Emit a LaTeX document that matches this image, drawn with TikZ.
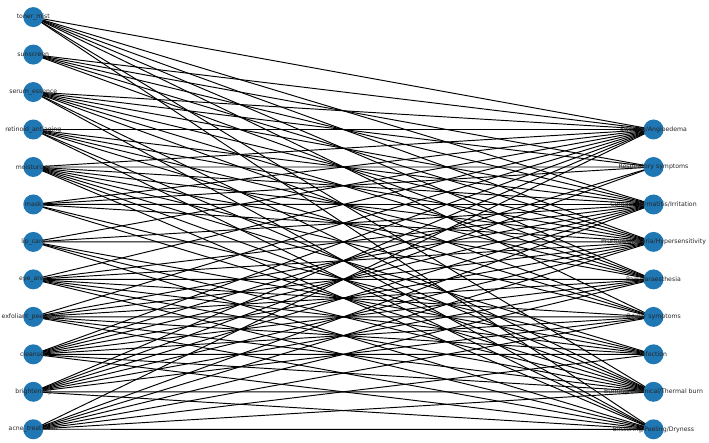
\documentclass[tikz,border=0pt]{standalone}
\usepackage{fontspec}
\setmainfont{DejaVu Sans}
\pgfdeclarelayer{bg}
\pgfsetlayers{bg,main}
\definecolor{mplblue}{HTML}{1F77B4}
\tikzset{
  vtx/.style={circle,fill=mplblue,draw=none,minimum size=20pt,inner sep=0pt},
  lbl/.style={font=\fontsize{6.2}{7}\selectfont,text=black!85,inner sep=0pt},
  edge/.style={draw=black,line width=0.95pt}
}
\begin{document}
\begin{tikzpicture}[x=1pt,y=-1pt]
\useasboundingbox (0,0) rectangle (709,443);
% left nodes
\foreach \n/\t [count=\i from 0] in {
  toner/toner\_mist, sun/sunscreen, serum/serum\_essence, retin/retinoid\_antiaging,
  moist/moisturizer, mask/mask, lip/lip\_care, eye/eye\_area,
  exfol/exfoliant\_peel\_scrub, clean/cleanser, bright/brightening, acne/acne\_treatment}{
  \node[vtx] (\n) at (33.3,{17.1+37.47*\i}) {};
  \node[lbl] (\n-l) at (\n) {\t};
}
% right nodes
\node[vtx] (swell) at (653.5,129.5) {};
\node[vtx] (resp)  at (653.5,167.0) {};
\node[vtx] (derm)  at (653.5,204.5) {};
\node[vtx] (prur)  at (653.5,241.9) {};
\node[vtx] (pain)  at (653.5,279.4) {};
\node[vtx] (ocul)  at (653.5,316.9) {};
\node[vtx] (infec) at (653.5,354.3) {};
\node[vtx] (burn)  at (653.5,391.8) {};
\node[vtx] (blist) at (653.5,429.3) {};
\node[lbl] (swell-l) at (swell) {Swelling/Angioedema};
\node[lbl] (resp-l)  at (resp)  {Respiratory symptoms};
\node[lbl] (derm-l)  at (derm)  {Contact dermatitis/Irritation};
\node[lbl] (prur-l)  at (prur)  {Pruritus/Urticaria/Hypersensitivity};
\node[lbl] (pain-l)  at (pain)  {Pain/Paraesthesia};
\node[lbl] (ocul-l)  at (ocul)  {Ocular symptoms};
\node[lbl] (infec-l) at (infec) {Infection};
\node[lbl] (burn-l)  at (burn)  {Burning/Chemical/Thermal burn};
\node[lbl] (blist-l) at (blist) {Blistering/Peeling/Dryness};
\begin{pgfonlayer}{bg}
\foreach \b in {swell,derm,prur,pain,ocul,burn,blist} {\draw[edge] (toner.center) -- (\b.center);}
\foreach \b in {swell,resp,derm,prur,pain} {\draw[edge] (sun.center) -- (\b.center);}
\foreach \b in {swell,resp,derm,prur,pain,ocul,burn,blist} {\draw[edge] (serum.center) -- (\b.center);}
\foreach \b in {swell,derm,prur,pain,ocul,burn,blist} {\draw[edge] (retin.center) -- (\b.center);}
\foreach \b in {swell,resp,derm,prur,pain,ocul,infec,burn,blist} {\draw[edge] (moist.center) -- (\b.center);}
\foreach \b in {swell,resp,derm,prur,infec,burn} {\draw[edge] (mask.center) -- (\b.center);}
\foreach \b in {swell,derm,prur,infec,burn,blist} {\draw[edge] (lip.center) -- (\b.center);}
\foreach \b in {swell,derm,prur,pain,ocul,infec,burn,blist} {\draw[edge] (eye.center) -- (\b.center);}
\foreach \b in {swell,derm,prur,pain,ocul,infec,burn,blist} {\draw[edge] (exfol.center) -- (\b.center);}
\foreach \b in {swell,resp,derm,prur,pain,ocul,infec,burn,blist} {\draw[edge] (clean.center) -- (\b.center);}
\foreach \b in {swell,resp,derm,prur,pain,ocul,burn,blist} {\draw[edge] (bright.center) -- (\b.center);}
\foreach \b in {swell,derm,prur,pain,ocul,infec,burn,blist} {\draw[edge] (acne.center) -- (\b.center);}
\end{pgfonlayer}
\end{tikzpicture}
\end{document}
